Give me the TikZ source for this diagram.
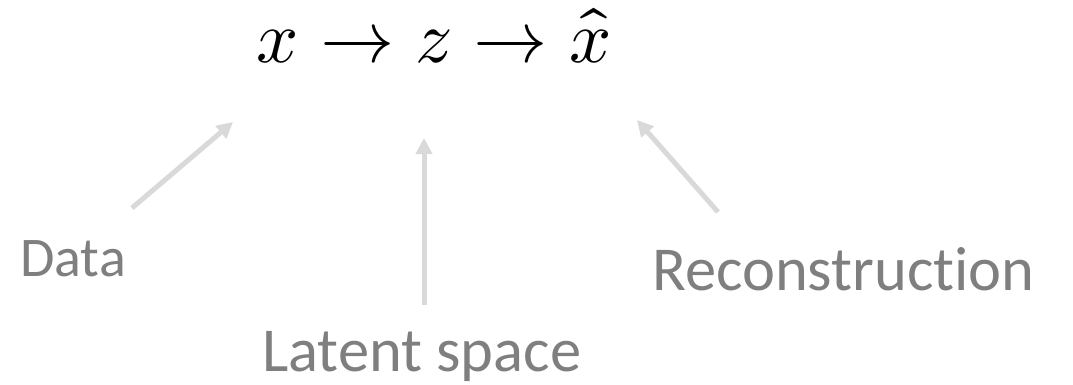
\documentclass[tikz,border=0pt]{standalone}
\usepackage{fontspec}
\usepackage{unicode-math}
\setmainfont{Carlito}[Ligatures=NoCommon]
\setmathfont{Latin Modern Math}
\usetikzlibrary{arrows.meta}
\definecolor{labelgray}{HTML}{7F7F7F}
\definecolor{arrowgray}{HTML}{D9D9D9}
\tikzset{
  lbl/.style={inner sep=0pt, anchor=base west, text=labelgray},
  pointer/.style={draw=arrowgray, line width=5pt, -{Triangle[length=16pt,width=16pt]}},
}
\begin{document}
\begin{tikzpicture}[x=1pt,y=-1pt]
\useasboundingbox (0,0) rectangle (1073,385);
\node[inner sep=0pt, anchor=base west] (eq) at (256,63)
  {\fontsize{74}{80}\selectfont$x\hspace{1pt}\rightarrow\hspace{1pt}z\hspace{1pt}\rightarrow\hspace{1pt}\hat{x}$};
\node[lbl, font=\fontsize{56}{60}\selectfont] (data) at (20,276) {Data};
\node[lbl, font=\fontsize{62.5}{66}\selectfont] (latent) at (262,371) {Latent space};
\node[lbl, font=\fontsize{62.5}{66}\selectfont] (recon) at (652,290) {Reconstruction};
\coordinate (dataTail) at (132,208);
\coordinate (dataTip) at (233,122);
\coordinate (latentTail) at (424,305);
\coordinate (latentTip) at (424,138);
\coordinate (reconTail) at (718,212);
\coordinate (reconTip) at (637,120);
\draw[pointer] (dataTail) -- (dataTip);
\draw[pointer] (latentTail) -- (latentTip);
\draw[pointer] (reconTail) -- (reconTip);
\end{tikzpicture}
\end{document}
